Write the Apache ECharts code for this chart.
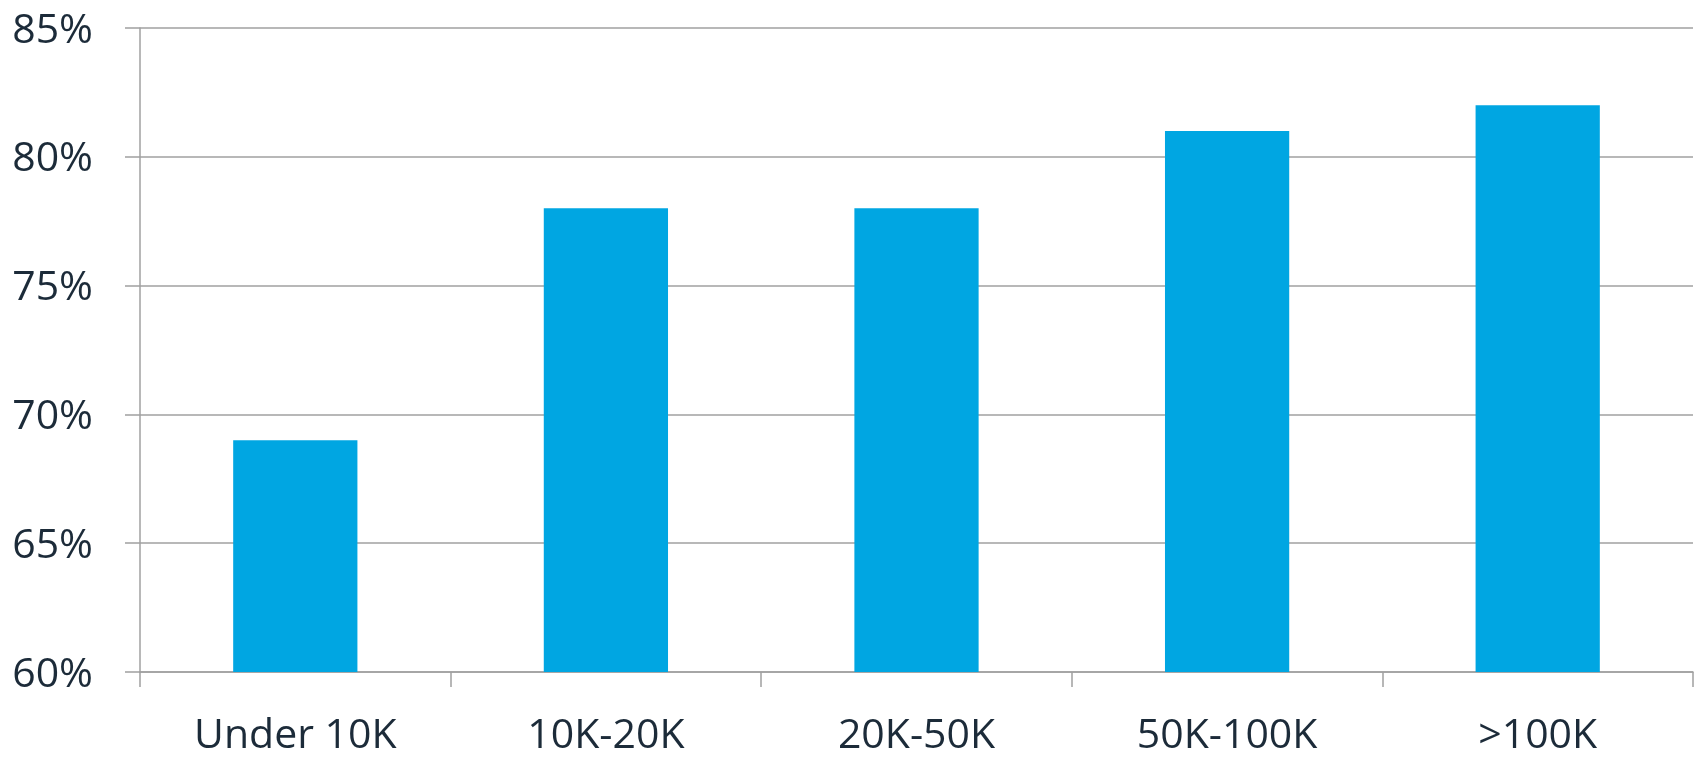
<!DOCTYPE html>
<html>
<head>
<meta charset="utf-8">
<script src="https://cdn.jsdelivr.net/npm/echarts@6/dist/echarts.min.js"></script>
<style>html,body{margin:0;padding:0;background:#fff}#c{width:1698px;height:757px}</style>
</head>
<body>
<div id="c"></div>
<script>
const categories = ['Under 10K', '10K-20K', '20K-50K', '50K-100K', '>100K'];
const values = [69, 78, 78, 81, 82];
const yTicks = [60, 65, 70, 75, 80, 85];

const chart = echarts.init(document.getElementById('c'));
const textColor = '#1c2b39';
const gray = '#a0a0a0';
chart.setOption({
  animation: false,
  grid: { left: 140, right: 5, top: 28, bottom: 83 },
  xAxis: {
    type: 'category',
    data: categories,
    axisLine: { lineStyle: { color: gray, width: 1.5 } },
    axisTick: { show: true, length: 15, lineStyle: { color: gray, width: 1.5 } },
    axisLabel: { color: textColor, fontFamily: 'Open Sans', fontSize: 41, margin: 44 }
  },
  yAxis: {
    type: 'value',
    min: yTicks[0],
    max: yTicks[yTicks.length - 1],
    interval: 5,
    axisLine: { show: true, lineStyle: { color: gray, width: 1.5 } },
    axisTick: { show: true, length: 15, lineStyle: { color: gray, width: 1.5 } },
    splitLine: { show: true, lineStyle: { color: gray, width: 1.5 } },
    axisLabel: { color: textColor, fontFamily: 'Open Sans', fontSize: 41, margin: 47, verticalAlign: 'top', lineHeight: 6, formatter: v => v + '%' }
  },
  series: [{
    type: 'bar',
    data: values,
    barCategoryGap: '60%',
    itemStyle: { color: '#00a6e2' }
  }]
});
</script>
</body>
</html>
